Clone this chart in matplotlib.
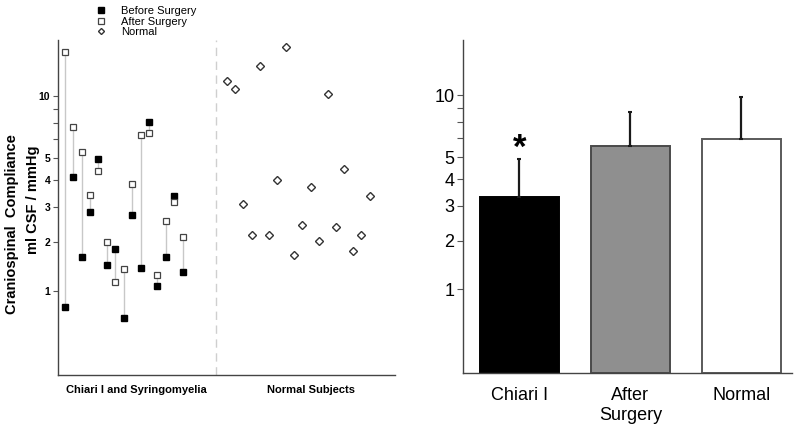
import numpy as np
import matplotlib
matplotlib.use("Agg")
import matplotlib.pyplot as plt

plt.rcParams['font.family'] = ['Liberation Sans', 'DejaVu Sans']

# ---------------------------------------------------------------------------
# DATA (ml CSF / mmHg)
# ---------------------------------------------------------------------------
before_surgery = [0.75, 4.10, 1.65, 2.85, 4.93, 1.48, 1.83, 0.60,
                  2.74, 1.41, 7.07, 1.09, 1.64, 3.36, 1.33]
after_surgery = [13.4, 6.74, 5.27, 3.40, 4.36, 1.99, 1.15, 1.39,
                 3.83, 6.26, 6.38, 1.28, 2.56, 3.15, 2.12]
normal_subjects = [10.3, 9.56, 3.10, 2.16, 11.8, 2.18, 3.99, 13.9, 1.70,
                   2.44, 3.73, 2.03, 9.14, 2.38, 4.47, 1.77, 2.17, 3.37]

bar_labels = ["Chiari I", "After\nSurgery", "Normal"]
bar_means = [3.31, 5.59, 5.97]
bar_err_up = [1.59, 2.16, 2.87]
bar_colors = ["black", "#8f8f8f", "white"]
bar_edges = ["black", "#4a4a4a", "#5a5a5a"]

tick_vals = [1, 2, 3, 4, 5, 9]
tick_text = ["1", "2", "3", "4", "5", "10"]
minor_vals = [6, 7, 8]


# the original axis is log10(x + 1)
def fwd(v):
    return np.log10(np.asarray(v, dtype=float) + 1)


def inv(p):
    return 10 ** np.asarray(p, dtype=float) - 1


YMAX = 10 ** 1.2 - 1


def style_axis(ax, fs, weight):
    ax.set_yscale("function", functions=(fwd, inv))
    ax.set_ylim(0, YMAX)
    ax.set_yticks(tick_vals)
    ax.set_yticklabels(tick_text, fontsize=fs, fontweight=weight)
    ax.set_yticks(minor_vals, minor=True)
    ax.yaxis.set_minor_formatter(plt.NullFormatter())
    ax.tick_params(axis="y", which="both", length=3.5, width=0.8,
                   color="#555555", pad=2)
    for s in ["top", "right"]:
        ax.spines[s].set_visible(False)
    for s in ["left", "bottom"]:
        ax.spines[s].set_color("#444444")
        ax.spines[s].set_linewidth(1.0)


fig = plt.figure(figsize=(8, 4.29), dpi=100)

# ---------------------------------------------------------------------------
# LEFT: individual patients
# ---------------------------------------------------------------------------
ax1 = fig.add_axes([0.0725, 0.1259, 0.4213, 0.7809])
style_axis(ax1, 7.5, "bold")
ax1.set_xlim(0, 40)
ax1.set_xticks([])

xc = np.arange(len(before_surgery)) + 0.8
xn = np.arange(len(normal_subjects)) + 20.0

ax1.vlines(xc, before_surgery, after_surgery, color="#c8c8c8", lw=1, zorder=1)
h1, = ax1.plot(xc, before_surgery, "s", ms=4.8, mfc="black", mec="black",
               ls="none", zorder=3, label="Before Surgery")
h2, = ax1.plot(xc, after_surgery, "s", ms=4.8, mfc="white", mec="#444444",
               mew=0.9, ls="none", zorder=3, label="After Surgery")
h3, = ax1.plot(xn, normal_subjects, "D", ms=3.6, mfc="white", mec="#333333",
               mew=1.0, ls="none", zorder=3, label="Normal")
ax1.axvline(18.8, color="#cfcfcf", lw=1, ls=(0, (6, 4)), zorder=0)

ax1.text(9.3, -0.045, "Chiari I and Syringomyelia", transform=ax1.get_xaxis_transform(),
         ha="center", va="center", fontsize=8, fontweight="bold")
ax1.text(30.0, -0.045, "Normal Subjects", transform=ax1.get_xaxis_transform(),
         ha="center", va="center", fontsize=8, fontweight="bold")

leg = ax1.legend(handles=[h1, h2, h3], loc="upper left",
                 bbox_to_anchor=(0.11, 1.004), bbox_transform=fig.transFigure,
                 frameon=False, fontsize=8, labelspacing=0.05,
                 handlelength=1.0, handletextpad=1.3, borderpad=0.2,
                 markerscale=0.85)

fig.text(0.015, 1 - 224 / 429, "Craniospinal  Compliance", rotation=90,
         ha="center", va="center", fontsize=10.5, fontweight="bold")
fig.text(0.041, 1 - 200 / 429, "ml CSF / mmHg", rotation=90,
         ha="center", va="center", fontsize=10.5, fontweight="bold")

# ---------------------------------------------------------------------------
# RIGHT: group means
# ---------------------------------------------------------------------------
ax2 = fig.add_axes([0.5784, 0.1305, 0.4116, 0.7763])
style_axis(ax2, 13, "normal")
ax2.tick_params(axis="y", which="both", length=4)
ax2.set_xlim(-0.51, 2.457)

xb = np.arange(len(bar_means))
ax2.bar(xb, bar_means, width=0.71, color=bar_colors, edgecolor=bar_edges,
        linewidth=1.4, zorder=2)
ax2.errorbar(xb, bar_means, yerr=[np.zeros(len(bar_means)), bar_err_up],
             fmt="none", ecolor="#1a1a1a", elinewidth=1.6, capsize=1.5,
             capthick=1.5, zorder=3)
ax2.annotate("*", xy=(xb[0], bar_means[0] + bar_err_up[0]), xytext=(0, -4),
             textcoords="offset points", ha="center", va="bottom",
             fontsize=25, fontweight="bold")

ax2.set_xticks(xb)
ax2.set_xticklabels(bar_labels, fontsize=13, linespacing=1.25)
ax2.tick_params(axis="x", length=0, pad=10)

fig.savefig("out.png", dpi=100)
